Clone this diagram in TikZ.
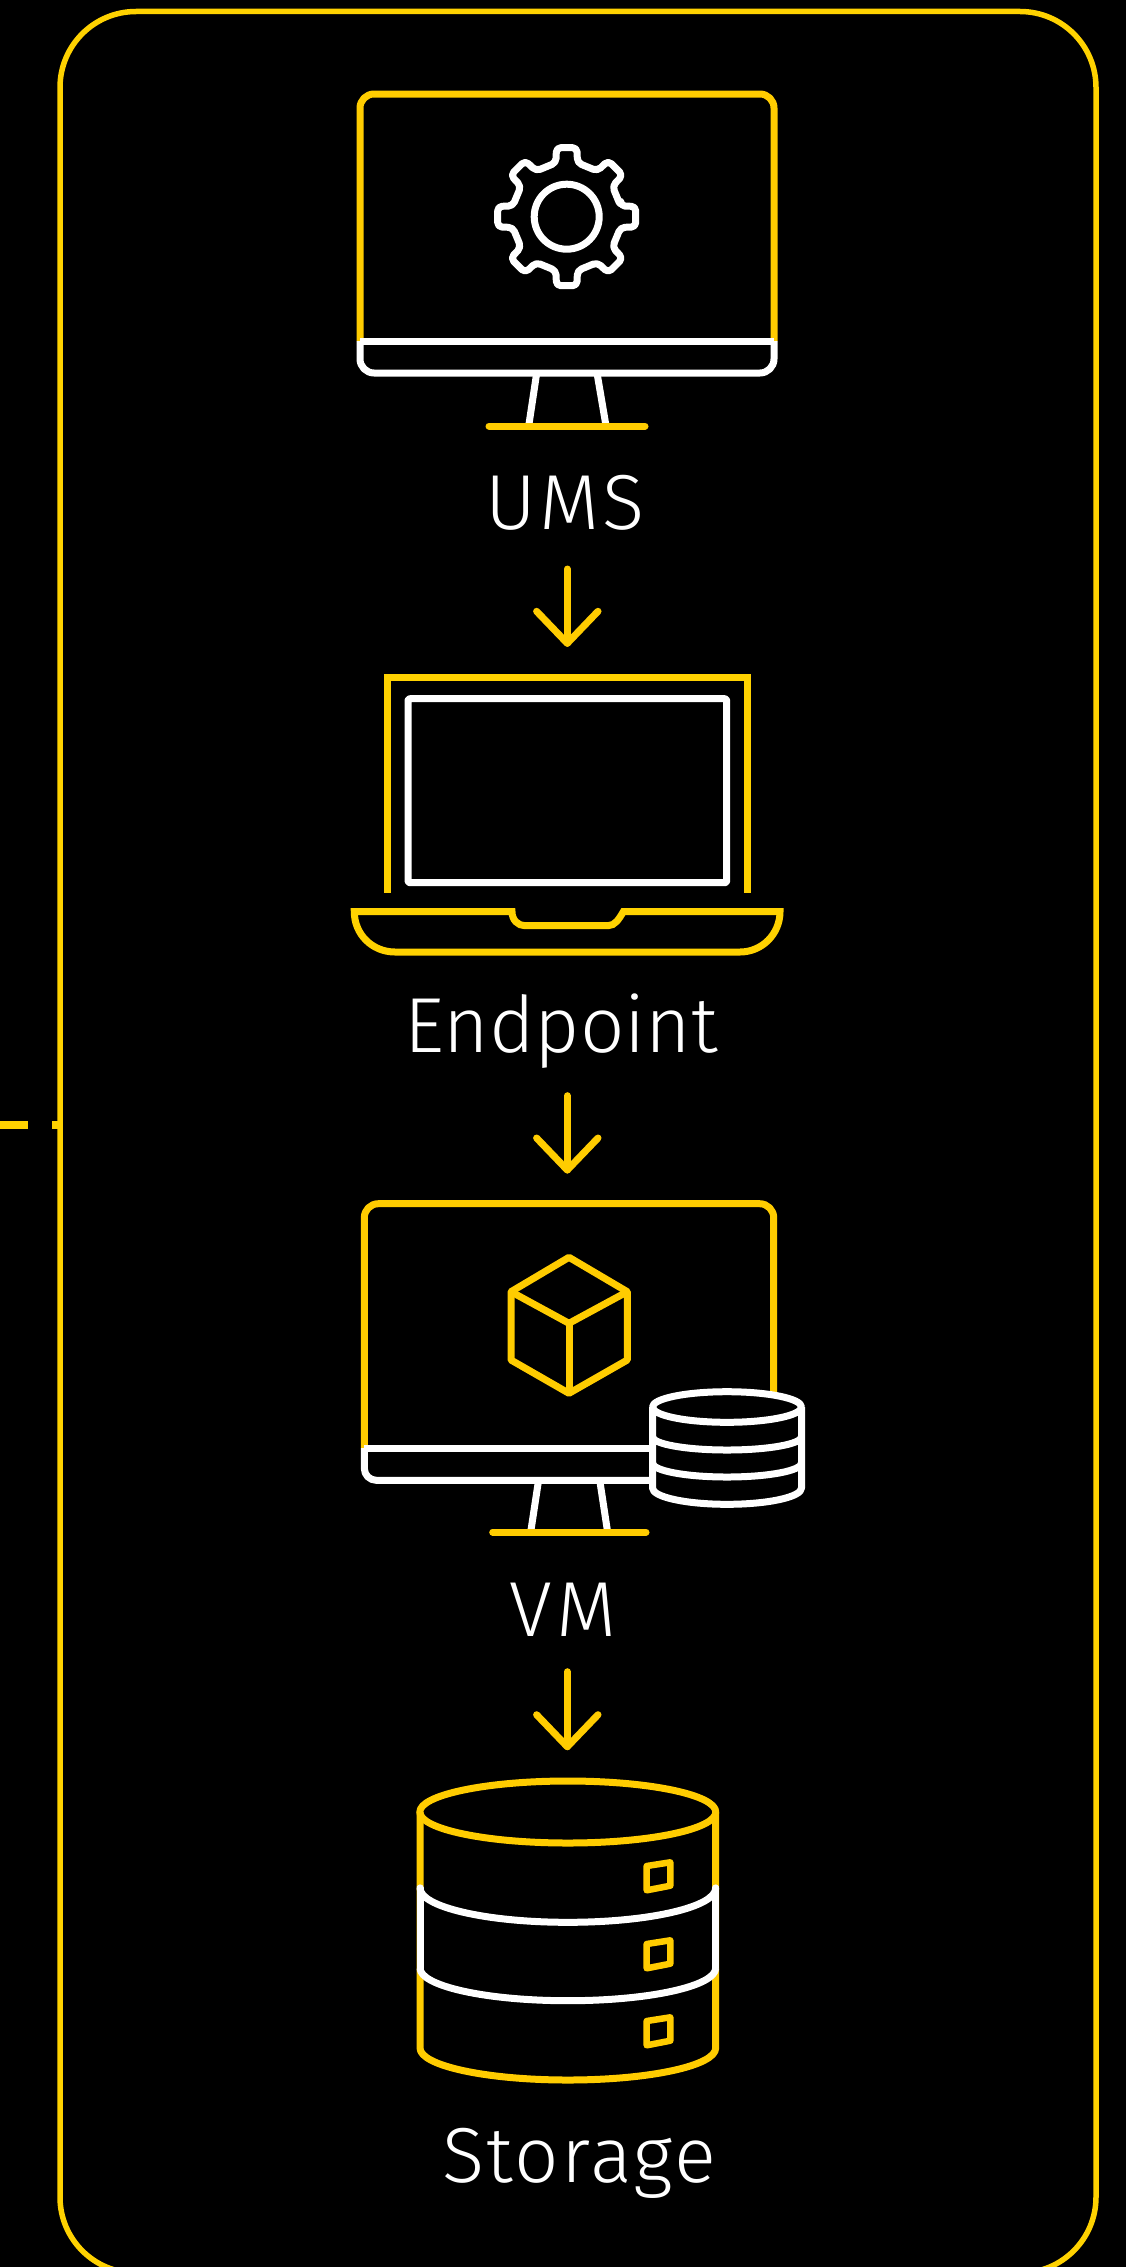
\documentclass[tikz,border=0pt]{standalone}
\usepackage{fontspec}
\setmainfont{Fira Sans Light}
\definecolor{gold}{HTML}{FFCC00}
\definecolor{goldb}{HTML}{FFD200}
\tikzset{
  ico/.style={line width=7pt,line join=round},
  yel/.style={ico,draw=gold},
  wht/.style={ico,draw=white},
  lap/.style={line width=7pt,draw=goldb,line join=miter},
  lbl/.style={text=white,font=\fontsize{78}{78}\selectfont,inner sep=0pt,anchor=base},
  arr/.style={yel,line cap=round},
}
\begin{document}
\begin{tikzpicture}[x=1pt,y=-1pt]
\useasboundingbox (0,0) rectangle (1126,2267);
\fill[black] (0,0) rectangle (1126,2267);
\begin{scope}
\clip (0,0) rectangle (1126,2267);
\draw[goldb,line width=5.5pt,rounded corners=76pt] (60,11.5) rectangle (1096,2273);
\end{scope}
\coordinate (dashA) at (0,1125);
\coordinate (dashB) at (58,1125);
\draw[goldb,line width=8pt,dash pattern=on 27.5pt off 24.5pt on 8pt] (dashA) -- (dashB);
% UMS
\draw[yel,rounded corners=14pt] (360,341) -- (360,94) -- (774,94) -- (774,341);
\draw[wht,rounded corners=14pt] (360,341) -- (360,373) -- (774,373) -- (774,341);
\draw[wht] (360,341) -- (774,341);
\draw[wht] (536.7,373) -- (529,424);
\draw[wht] (597,373) -- (605.7,424);
\draw[yel,line cap=round] (489,426) -- (645,426);
\begin{scope}[shift={(566.7,216.7)}]
\draw[wht,rounded corners=4.5pt] (-11.2:55)
  \foreach \a in {0,45,...,315} { -- (\a-11.2:55) -- (\a-8.5:69.8) -- (\a+8.5:69.8) -- (\a+11.2:55) } -- cycle;
\draw[wht] (0,0) circle[radius=32.5];
\end{scope}
% Laptop
\draw[lap] (387,892.7) -- (387,677.7) -- (747.3,677.7) -- (747.3,892.7);
\draw[wht,rounded corners=2pt] (408,698.7) rectangle (726.7,882.7);
\draw[lap] (354.3,911.7) -- (512,911.7) .. controls (512,920) and (518,925.7) .. (525,925.7) -- (608,925.7) .. controls (615,925.7) and (619,919) .. (623.3,911.7) -- (780,911.7) .. controls (780,934) and (762,952) .. (740,952) -- (395,952) .. controls (372,952) and (354.3,934) .. (354.3,911.7) -- cycle;
% VM
\draw[yel,rounded corners=14pt] (364.3,1448) -- (364.3,1203.7) -- (773.7,1203.7) -- (773.7,1392);
\draw[wht] (652,1448) -- (364.3,1448);
\draw[wht,rounded corners=12pt] (364.3,1448) -- (364.3,1480.3) -- (652,1480.3);
\draw[wht] (538.3,1482) -- (531,1530);
\draw[wht] (600,1482) -- (607.3,1530);
\draw[yel,line cap=round] (492.7,1532) -- (646,1532);
\draw[yel] (569,1257.3) -- (627.3,1291.7) -- (627.3,1360) -- (569,1393.3) -- (511,1360) -- (511,1291.7) -- cycle;
\draw[yel] (511,1291.7) -- (569,1323.3) -- (627.3,1291.7);
\draw[yel] (569,1323.3) -- (569,1393.3);
% small db
\draw[wht] (727,1407) ellipse[x radius=74.5,y radius=15.3];
\draw[wht] (652.5,1407) -- (652.5,1488) arc[start angle=180,end angle=0,x radius=74.5,y radius=16.3] -- (801.5,1407);
\draw[wht] (652.5,1436.7) arc[start angle=180,end angle=0,x radius=74.5,y radius=13.3];
\draw[wht] (652.5,1463) arc[start angle=180,end angle=0,x radius=74.5,y radius=14];
% Storage
\draw[yel] (567.8,1812) ellipse[x radius=148,y radius=31];
\draw[yel] (420,1812) -- (420,2048) arc[start angle=180,end angle=0,x radius=147.85,y radius=32] -- (715.7,1812);
\draw[wht] (420,1968) arc[start angle=180,end angle=0,x radius=147.85,y radius=32.7];
\draw[wht,line cap=round] (420,1888) -- (420,1968);
\draw[wht,line cap=round] (715.7,1888) -- (715.7,1968);
\draw[wht,line cap=round] (420,1888) arc[start angle=180,end angle=0,x radius=147.85,y radius=34.3];
\foreach \d in {0,78,155}{
  \draw[yel,line width=6.5pt] (646.7,1866+\d) -- (670.3,1862.3+\d) -- (670.3,1885.7+\d) -- (646.7,1890.3+\d) -- cycle;
}
% labels
\node[lbl] (ums) at (565,529) {\addfontfeature{LetterSpace=5}UMS};
\node[lbl] (endpoint) at (561,1052.3) {Endpoint};
\node[lbl] (vm) at (563,1636.7) {\addfontfeature{LetterSpace=6}VM};
\node[lbl] (storage) at (579,2182.7) {\addfontfeature{LetterSpace=3}Storage};
% arrows
\coordinate (a1) at (567.3,569); \coordinate (b1) at (567.3,643.3);
\coordinate (a2) at (567.3,1095.7); \coordinate (b2) at (567.3,1170);
\coordinate (a3) at (567.3,1671.7); \coordinate (b3) at (567.3,1746.7);
\foreach \i in {1,2,3}{
  \draw[arr] (a\i) -- (b\i);
  \draw[arr] ([shift={(-30.7,-32)}]b\i) -- (b\i) -- ([shift={(30.7,-32)}]b\i);
}
\end{tikzpicture}
\end{document}
